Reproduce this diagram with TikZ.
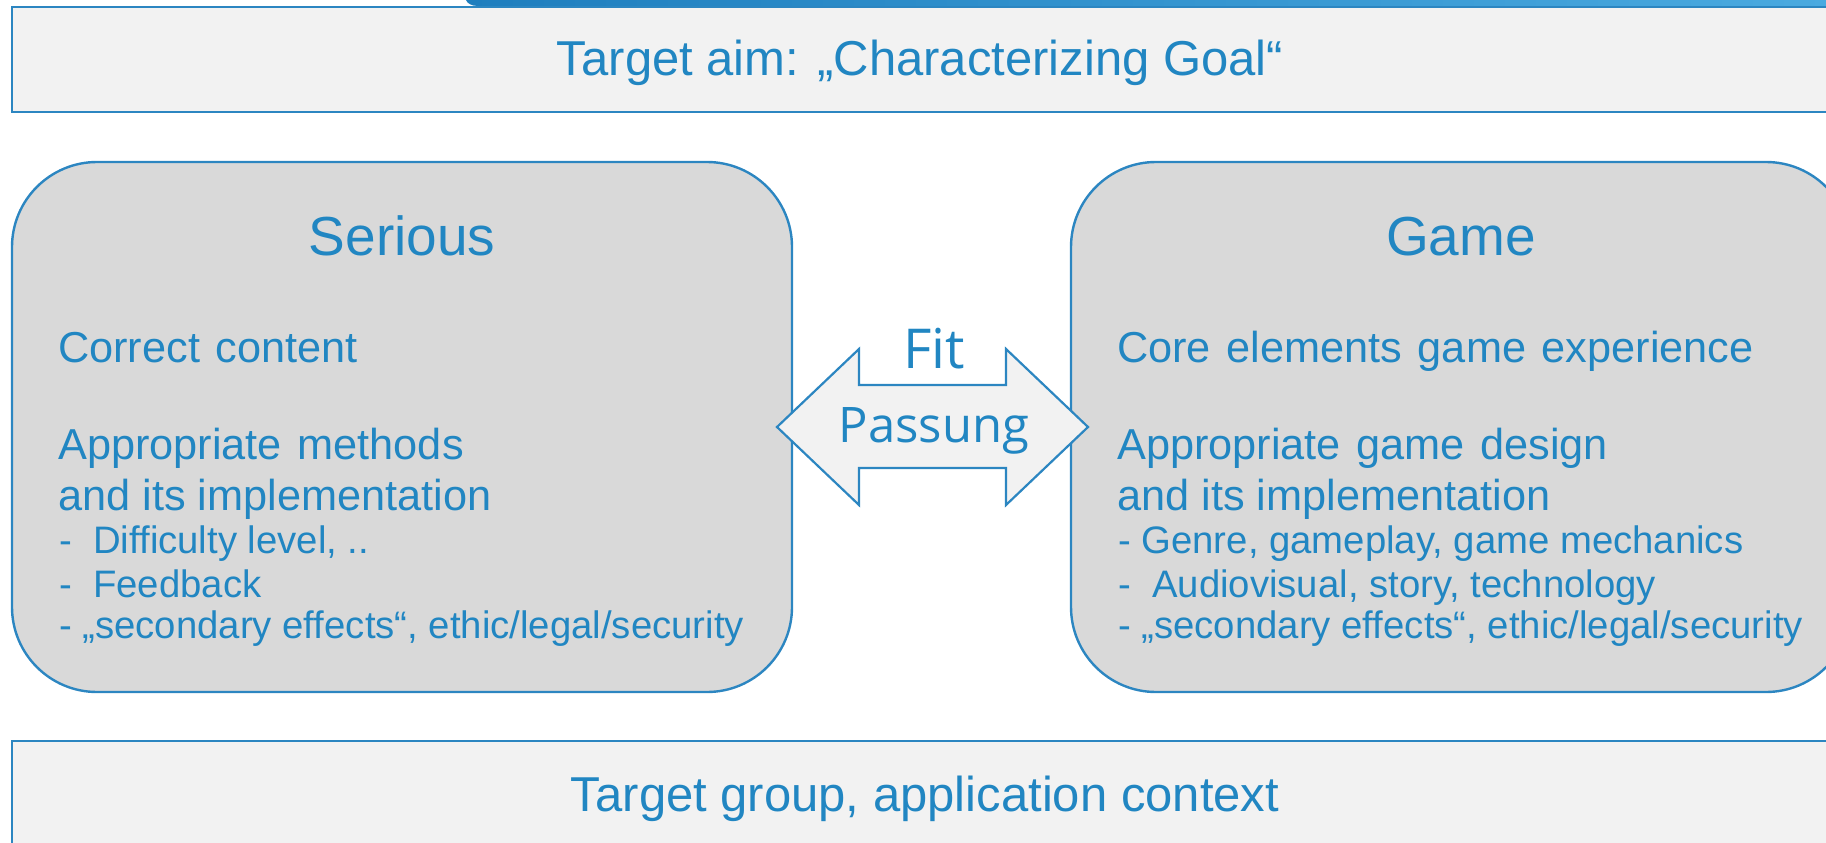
\documentclass[tikz,border=0pt]{standalone}
\usepackage{fontspec}
\setmainfont{Liberation Sans}
\newfontfamily\fitfont{Open Sans}
\definecolor{txtblue}{RGB}{33,134,194}
\definecolor{lineblue}{RGB}{44,134,193}
\definecolor{panelgray}{RGB}{217,217,217}
\definecolor{barfill}{RGB}{242,242,242}
\definecolor{bandL}{RGB}{30,126,190}
\definecolor{bandR}{RGB}{74,170,224}
% wider word gap used in the headline rows of the panels
\newcommand\wsp{\hspace{0.36em}}
\newcommand\fsz[2]{\fontsize{#1}{#2}\selectfont}
\tikzset{
  txt/.style={inner sep=0pt, text=txtblue},
  big/.style={txt, anchor=base west, font=\fsz{43.3}{50}},
  small/.style={txt, anchor=base west, font=\fsz{38.3}{43}},
  head/.style={txt, anchor=base, font=\fsz{55}{60}},
  banner/.style={txt, anchor=base, font=\fsz{49}{55}},
  panel/.style={fill=panelgray, draw=lineblue, line width=2.4pt, rounded corners=85pt},
  strip/.style={fill=barfill, draw=lineblue, line width=2.5pt},
}
\begin{document}
\begin{tikzpicture}[x=1pt,y=-1pt]
\useasboundingbox (0,0) rectangle (1826,843);

% header strip at the top edge
\shade[left color=bandL, right color=bandR]
  (466,0) -- (1830,0) -- (1830,6) -- (478,6) .. controls (471,6) and (467,3) .. (466,0) -- cycle;

% top and bottom strips
\draw[strip] (12,7) rectangle (1840,112);
\draw[strip] (12,741) rectangle (1840,860);
\node[banner] (aim) at (920,75) {Target aim: „Characterizing Goal“};
\node[banner] (group) at (925,811) {Target group, application context};

% left panel
\draw[panel] (12,162) rectangle (792,692);
\node[head] (serious) at (402,255) {Serious};
\node[big] (s1) at (58,362) {Correct\wsp content};
\node[big] (s2) at (58,459) {Appropriate\wsp methods};
\node[big] (s3) at (58,510) {and its implementation};
\node[small] (s4) at (59,553) {-~~Difficulty level, ..};
\node[small] (s5) at (59,597) {-~~Feedback};
\node[small] (s6) at (59,638) {-~„secondary effects“, ethic/legal/security};

% right panel
\draw[panel] (1071,162) rectangle (1851,692);
\node[head] (game) at (1461,255) {Game};
\node[big] (g1) at (1117,362) {Core\wsp elements\wsp game\wsp experience};
\node[big] (g2) at (1117,459) {Appropriate\wsp game\wsp design};
\node[big] (g3) at (1117,510) {and its implementation};
\node[small] (g4) at (1118,553) {- Genre, gameplay, game mechanics};
\node[small] (g5) at (1118,597) {-~~Audiovisual, story, technology};
\node[small] (g6) at (1118,638) {-~„secondary effects“, ethic/legal/security};

% double arrow between the panels
\draw[fill=barfill, draw=lineblue, line width=2.2pt, line join=miter]
  (777,427) -- (859,349) -- (859,385) -- (1006,385) -- (1006,349) -- (1088,427)
  -- (1006,505) -- (1006,468) -- (859,468) -- (859,505) -- cycle;
\node[txt, anchor=base, font=\fitfont\fsz{55}{60}] (fit) at (934,368) {Fit};
\node[txt, anchor=base, font=\fitfont\fsz{49}{55}] (passung) at (934,442) {Passung};
\end{tikzpicture}
\end{document}
